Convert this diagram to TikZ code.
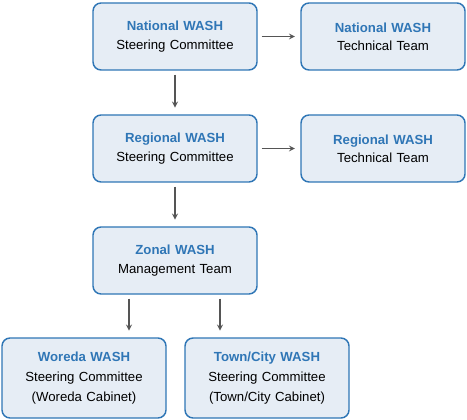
\documentclass[tikz,border=0pt]{standalone}
\usepackage{fontspec}
\setmainfont{Liberation Sans}
\usepackage{xcolor}
\usepackage{tikz}
\usetikzlibrary{shapes.geometric, arrows}

\definecolor{washblue}{HTML}{2F76B6}
\definecolor{washfill}{HTML}{E6EDF5}
\definecolor{washgray}{HTML}{555555}

\newcommand{\wtitle}[1]{{\bfseries\color{washblue}#1}}

\begin{document}
\begin{tikzpicture}[x=0.75pt, y=-0.75pt, every node/.style={font=\fontsize{9.9pt}{13.8pt}\selectfont}]
        % Block styles with light blue fill
        \tikzstyle{block} = [rectangle, draw=washblue, line width=1.1pt, fill=washfill,
                             text width=118pt, align=center, rounded corners=6pt,
                             minimum width=123pt, minimum height=50.25pt, inner sep=0pt]
        \tikzstyle{tallblock} = [block, minimum height=60pt, font=\fontsize{9.9pt}{15pt}\selectfont]
        \tikzstyle{arrow} = [washgray, line width=1pt, ->, >=stealth]

        \useasboundingbox (0,0) rectangle (467,420);

        % Upper levels
        \node (natsteer) [block] at (175,36.5) {\wtitle{National WASH}\\Steering Committee};
        \node (nattech) [block] at (383,36.5) {\wtitle{National WASH}\\Technical Team};
        \node (regsteer) [block] at (175,148.5) {\wtitle{Regional WASH}\\Steering Committee};
        \node (regtech) [block] at (383,148.5) {\wtitle{Regional WASH}\\Technical Team};
        \node (zonal) [block] at (175,260.5) {\wtitle{Zonal WASH}\\Management Team};

        % Lower levels
        \node (woreda) [tallblock] at (84,378) {\wtitle{Woreda WASH}\\Steering Committee\\(Woreda Cabinet)};
        \node (town) [tallblock] at (267,378) {\wtitle{Town/City WASH}\\Steering Committee\\(Town/City Cabinet)};

        % Arrows
        \draw [arrow, shorten <=3pt, shorten >=4pt] (natsteer) -- (nattech);
        \draw [arrow, shorten <=3pt, shorten >=4pt] (regsteer) -- (regtech);
        \draw [arrow, shorten <=3pt, shorten >=5pt] (natsteer) -- (regsteer);
        \draw [arrow, shorten <=3pt, shorten >=5pt] (regsteer) -- (zonal);
        \draw [arrow, shorten <=3pt, shorten >=5pt] ([xshift=-34.5pt]zonal.south) -- ([xshift=-34.5pt]zonal.south |- woreda.north);
        \draw [arrow, shorten <=3pt, shorten >=5pt] ([xshift=33.75pt]zonal.south) -- ([xshift=33.75pt]zonal.south |- town.north);
    \end{tikzpicture}
\end{document}
